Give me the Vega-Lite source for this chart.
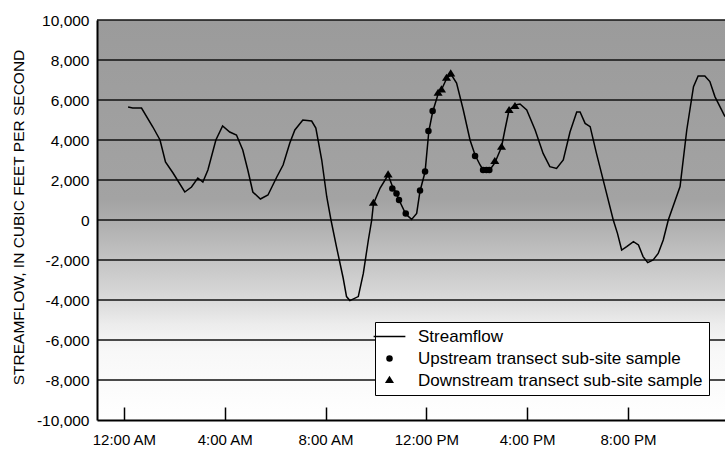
{
  "$schema": "https://vega.github.io/schema/vega-lite/v6.json",
  "width": 628,
  "height": 400,
  "autosize": {"type": "none"},
  "padding": {"left": 97, "top": 20, "right": 0, "bottom": 30},
  "background": "white",
  "config": {
    "view": {"stroke": null},
    "font": "Liberation Sans",
    "axis": {
      "labelFont": "Liberation Sans",
      "labelColor": "black",
      "titleFont": "Liberation Sans",
      "titleColor": "black",
      "domainColor": "black",
      "tickColor": "black"
    }
  },
  "datasets": {
    "flow": [
      {"t": "2000-01-02T00:10", "flow": 5650},
      {"t": "2000-01-02T00:21", "flow": 5600},
      {"t": "2000-01-02T00:42", "flow": 5600},
      {"t": "2000-01-02T01:09", "flow": 4650},
      {"t": "2000-01-02T01:26", "flow": 4000},
      {"t": "2000-01-02T01:39", "flow": 2900},
      {"t": "2000-01-02T01:57", "flow": 2350},
      {"t": "2000-01-02T02:25", "flow": 1400},
      {"t": "2000-01-02T02:41", "flow": 1650},
      {"t": "2000-01-02T02:56", "flow": 2100},
      {"t": "2000-01-02T03:08", "flow": 1900},
      {"t": "2000-01-02T03:20", "flow": 2500},
      {"t": "2000-01-02T03:39", "flow": 4000},
      {"t": "2000-01-02T03:55", "flow": 4700},
      {"t": "2000-01-02T04:12", "flow": 4400},
      {"t": "2000-01-02T04:28", "flow": 4250},
      {"t": "2000-01-02T04:43", "flow": 3500},
      {"t": "2000-01-02T04:55", "flow": 2500},
      {"t": "2000-01-02T05:07", "flow": 1400},
      {"t": "2000-01-02T05:25", "flow": 1050},
      {"t": "2000-01-02T05:43", "flow": 1250},
      {"t": "2000-01-02T06:04", "flow": 2150},
      {"t": "2000-01-02T06:19", "flow": 2750},
      {"t": "2000-01-02T06:35", "flow": 3850},
      {"t": "2000-01-02T06:47", "flow": 4500},
      {"t": "2000-01-02T07:06", "flow": 5000},
      {"t": "2000-01-02T07:27", "flow": 4950},
      {"t": "2000-01-02T07:37", "flow": 4600},
      {"t": "2000-01-02T07:51", "flow": 3000},
      {"t": "2000-01-02T08:03", "flow": 1150},
      {"t": "2000-01-02T08:13", "flow": 0},
      {"t": "2000-01-02T08:26", "flow": -1330},
      {"t": "2000-01-02T08:42", "flow": -2900},
      {"t": "2000-01-02T08:50", "flow": -3830},
      {"t": "2000-01-02T08:58", "flow": -4030},
      {"t": "2000-01-02T09:18", "flow": -3830},
      {"t": "2000-01-02T09:30", "flow": -2670},
      {"t": "2000-01-02T09:42", "flow": -1000},
      {"t": "2000-01-02T09:50", "flow": 0},
      {"t": "2000-01-02T09:54", "flow": 800},
      {"t": "2000-01-02T10:10", "flow": 1600},
      {"t": "2000-01-02T10:29", "flow": 2250},
      {"t": "2000-01-02T10:39", "flow": 1700},
      {"t": "2000-01-02T10:49", "flow": 1330},
      {"t": "2000-01-02T10:55", "flow": 1000},
      {"t": "2000-01-02T11:11", "flow": 300},
      {"t": "2000-01-02T11:25", "flow": 30},
      {"t": "2000-01-02T11:37", "flow": 330},
      {"t": "2000-01-02T11:45", "flow": 1450},
      {"t": "2000-01-02T11:57", "flow": 2400},
      {"t": "2000-01-02T12:06", "flow": 4450},
      {"t": "2000-01-02T12:15", "flow": 5400},
      {"t": "2000-01-02T12:28", "flow": 6300},
      {"t": "2000-01-02T12:38", "flow": 6600},
      {"t": "2000-01-02T12:50", "flow": 7150},
      {"t": "2000-01-02T13:00", "flow": 7250},
      {"t": "2000-01-02T13:12", "flow": 6850},
      {"t": "2000-01-02T13:28", "flow": 5500},
      {"t": "2000-01-02T13:44", "flow": 4000},
      {"t": "2000-01-02T13:56", "flow": 3250},
      {"t": "2000-01-02T14:08", "flow": 2750},
      {"t": "2000-01-02T14:15", "flow": 2500},
      {"t": "2000-01-02T14:31", "flow": 2500},
      {"t": "2000-01-02T14:43", "flow": 2850},
      {"t": "2000-01-02T14:59", "flow": 3650},
      {"t": "2000-01-02T15:07", "flow": 4500},
      {"t": "2000-01-02T15:17", "flow": 5500},
      {"t": "2000-01-02T15:31", "flow": 5750},
      {"t": "2000-01-02T15:43", "flow": 5800},
      {"t": "2000-01-02T15:59", "flow": 5500},
      {"t": "2000-01-02T16:19", "flow": 4500},
      {"t": "2000-01-02T16:38", "flow": 3330},
      {"t": "2000-01-02T16:54", "flow": 2670},
      {"t": "2000-01-02T17:10", "flow": 2580},
      {"t": "2000-01-02T17:26", "flow": 3000},
      {"t": "2000-01-02T17:42", "flow": 4400},
      {"t": "2000-01-02T17:58", "flow": 5400},
      {"t": "2000-01-02T18:06", "flow": 5400},
      {"t": "2000-01-02T18:18", "flow": 4830},
      {"t": "2000-01-02T18:30", "flow": 4670},
      {"t": "2000-01-02T18:45", "flow": 3330},
      {"t": "2000-01-02T19:05", "flow": 1670},
      {"t": "2000-01-02T19:25", "flow": 0},
      {"t": "2000-01-02T19:35", "flow": -670},
      {"t": "2000-01-02T19:45", "flow": -1500},
      {"t": "2000-01-02T19:57", "flow": -1330},
      {"t": "2000-01-02T20:13", "flow": -1080},
      {"t": "2000-01-02T20:25", "flow": -1250},
      {"t": "2000-01-02T20:36", "flow": -1830},
      {"t": "2000-01-02T20:47", "flow": -2130},
      {"t": "2000-01-02T21:00", "flow": -2000},
      {"t": "2000-01-02T21:12", "flow": -1670},
      {"t": "2000-01-02T21:24", "flow": -1000},
      {"t": "2000-01-02T21:36", "flow": 0},
      {"t": "2000-01-02T22:04", "flow": 1670},
      {"t": "2000-01-02T22:20", "flow": 4500},
      {"t": "2000-01-02T22:36", "flow": 6670},
      {"t": "2000-01-02T22:47", "flow": 7200},
      {"t": "2000-01-02T23:03", "flow": 7200},
      {"t": "2000-01-02T23:15", "flow": 6920},
      {"t": "2000-01-02T23:27", "flow": 6170},
      {"t": "2000-01-02T23:51", "flow": 5170}
    ],
    "samples": [
      {"t": "2000-01-02T10:39", "flow": 1580, "type": "Upstream transect sub-site sample"},
      {"t": "2000-01-02T10:49", "flow": 1330, "type": "Upstream transect sub-site sample"},
      {"t": "2000-01-02T10:55", "flow": 1000, "type": "Upstream transect sub-site sample"},
      {"t": "2000-01-02T11:11", "flow": 330, "type": "Upstream transect sub-site sample"},
      {"t": "2000-01-02T11:45", "flow": 1470, "type": "Upstream transect sub-site sample"},
      {"t": "2000-01-02T11:57", "flow": 2420, "type": "Upstream transect sub-site sample"},
      {"t": "2000-01-02T12:05", "flow": 4450, "type": "Upstream transect sub-site sample"},
      {"t": "2000-01-02T12:15", "flow": 5450, "type": "Upstream transect sub-site sample"},
      {"t": "2000-01-02T13:56", "flow": 3200, "type": "Upstream transect sub-site sample"},
      {"t": "2000-01-02T14:15", "flow": 2500, "type": "Upstream transect sub-site sample"},
      {"t": "2000-01-02T14:23", "flow": 2500, "type": "Upstream transect sub-site sample"},
      {"t": "2000-01-02T14:30", "flow": 2500, "type": "Upstream transect sub-site sample"},
      {"t": "2000-01-02T09:54", "flow": 830, "type": "Downstream transect sub-site sample"},
      {"t": "2000-01-02T10:29", "flow": 2250, "type": "Downstream transect sub-site sample"},
      {"t": "2000-01-02T12:28", "flow": 6330, "type": "Downstream transect sub-site sample"},
      {"t": "2000-01-02T12:36", "flow": 6500, "type": "Downstream transect sub-site sample"},
      {"t": "2000-01-02T12:48", "flow": 7080, "type": "Downstream transect sub-site sample"},
      {"t": "2000-01-02T12:58", "flow": 7300, "type": "Downstream transect sub-site sample"},
      {"t": "2000-01-02T14:43", "flow": 2920, "type": "Downstream transect sub-site sample"},
      {"t": "2000-01-02T14:59", "flow": 3630, "type": "Downstream transect sub-site sample"},
      {"t": "2000-01-02T15:17", "flow": 5470, "type": "Downstream transect sub-site sample"},
      {"t": "2000-01-02T15:31", "flow": 5670, "type": "Downstream transect sub-site sample"}
    ],
    "band": [{"flow": -10000, "hi": 10000}],
    "grid": [
      {"flow": -8000}, {"flow": -6000}, {"flow": -4000}, {"flow": -2000}, {"flow": 0},
      {"flow": 2000}, {"flow": 4000}, {"flow": 6000}, {"flow": 8000}, {"flow": 10000}
    ]
  },
  "encoding": {
    "y": {
      "field": "flow", "type": "quantitative",
      "scale": {"domain": [-10000, 10000], "nice": false, "zero": false},
      "axis": {
        "zindex": 2,
        "values": [-10000, -8000, -6000, -4000, -2000, 0, 2000, 4000, 6000, 8000, 10000],
        "labelExpr": "replace(format(datum.value, ','), '\u2212', '-')",
        "labelFontSize": 15.5,
        "labelPadding": 8,
        "labelOverlap": false,
        "labelFlush": false,
        "ticks": false,
        "grid": false,
        "domainWidth": 2,
        "title": "STREAMFLOW, IN CUBIC FEET PER SECOND",
        "titleFontSize": 15.5,
        "titleFontWeight": "normal",
        "titleAngle": -90,
        "titleX": -79,
        "titleY": 197,
        "titleAlign": "center",
        "titleBaseline": "middle"
      }
    }
  },
  "layer": [
    {
      "data": {"name": "band"},
      "mark": {
        "type": "rect",
        "color": {
          "gradient": "linear",
          "x1": 0, "y1": 0, "x2": 0, "y2": 1,
          "stops": [
            {"offset": 0, "color": "#9b9b9b"},
            {"offset": 0.45, "color": "#a3a3a3"},
            {"offset": 0.5, "color": "#adadad"},
            {"offset": 0.6, "color": "#c4c4c4"},
            {"offset": 0.7, "color": "#dadada"},
            {"offset": 0.76, "color": "#ececec"},
            {"offset": 0.83, "color": "#f8f8f8"},
            {"offset": 1, "color": "#ffffff"}
          ]
        }
      },
      "encoding": {
        "y2": {"field": "hi"}
      }
    },
    {
      "data": {"name": "grid"},
      "mark": {"type": "rule", "color": "#111111", "strokeWidth": 1.5},
      "encoding": {}
    },
    {
      "data": {"name": "flow"},
      "mark": {"type": "line", "color": "black", "strokeWidth": 1.5},
      "encoding": {
        "x": {
          "field": "t", "type": "temporal",
          "scale": {
            "domain": [
              {"year": 2000, "month": 1, "date": 1, "hours": 22, "minutes": 56},
              {"year": 2000, "month": 1, "date": 2, "hours": 23, "minutes": 51}
            ],
            "nice": false
          },
          "axis": {
            "zindex": 2,
            "values": [
              {"year": 2000, "month": 1, "date": 2, "hours": 0},
              {"year": 2000, "month": 1, "date": 2, "hours": 4},
              {"year": 2000, "month": 1, "date": 2, "hours": 8},
              {"year": 2000, "month": 1, "date": 2, "hours": 12},
              {"year": 2000, "month": 1, "date": 2, "hours": 16},
              {"year": 2000, "month": 1, "date": 2, "hours": 20}
            ],
            "format": "%-I:%M %p",
            "labelFontSize": 15,
            "labelPadding": 25,
            "tickSize": -13,
            "tickWidth": 1.5,
            "domainWidth": 2,
            "grid": false,
            "labelFlush": false,
            "labelOverlap": false,
            "title": null
          }
        }
      }
    },
    {
      "data": {"name": "samples"},
      "mark": {"type": "point", "filled": true, "fill": "black", "opacity": 1, "size": 42},
      "encoding": {
        "x": {
          "field": "t", "type": "temporal",
          "scale": {
            "domain": [
              {"year": 2000, "month": 1, "date": 1, "hours": 22, "minutes": 56},
              {"year": 2000, "month": 1, "date": 2, "hours": 23, "minutes": 51}
            ],
            "nice": false
          }
        },
        "shape": {
          "field": "type", "type": "nominal",
          "scale": {
            "domain": ["Streamflow", "Upstream transect sub-site sample", "Downstream transect sub-site sample"],
            "range": ["M-4.9,-0.23H4.9V0.23H-4.9Z", "circle", "M0,-1.45L1.4,0.75L-1.4,0.75Z"]
          },
          "legend": {
            "title": null,
            "orient": "none",
            "legendX": 278,
            "legendY": 302,
            "fillColor": "white",
            "strokeColor": "black",
            "padding": 6,
            "labelFont": "Liberation Sans",
            "labelFontSize": 17,
            "labelColor": "black",
            "labelLimit": 400,
            "labelOffset": 20,
            "rowPadding": 4,
            "symbolSize": 42,
            "zindex": 3,
            "encode": {
              "legend": {
                "update": {
                  "strokeWidth": {"value": 2}
                }
              },
              "symbols": {
                "update": {
                  "fill": {"value": "black"},
                  "stroke": {"value": "transparent"},
                  "opacity": {"value": 1}
                }
              }
            }
          }
        }
      }
    }
  ]
}
